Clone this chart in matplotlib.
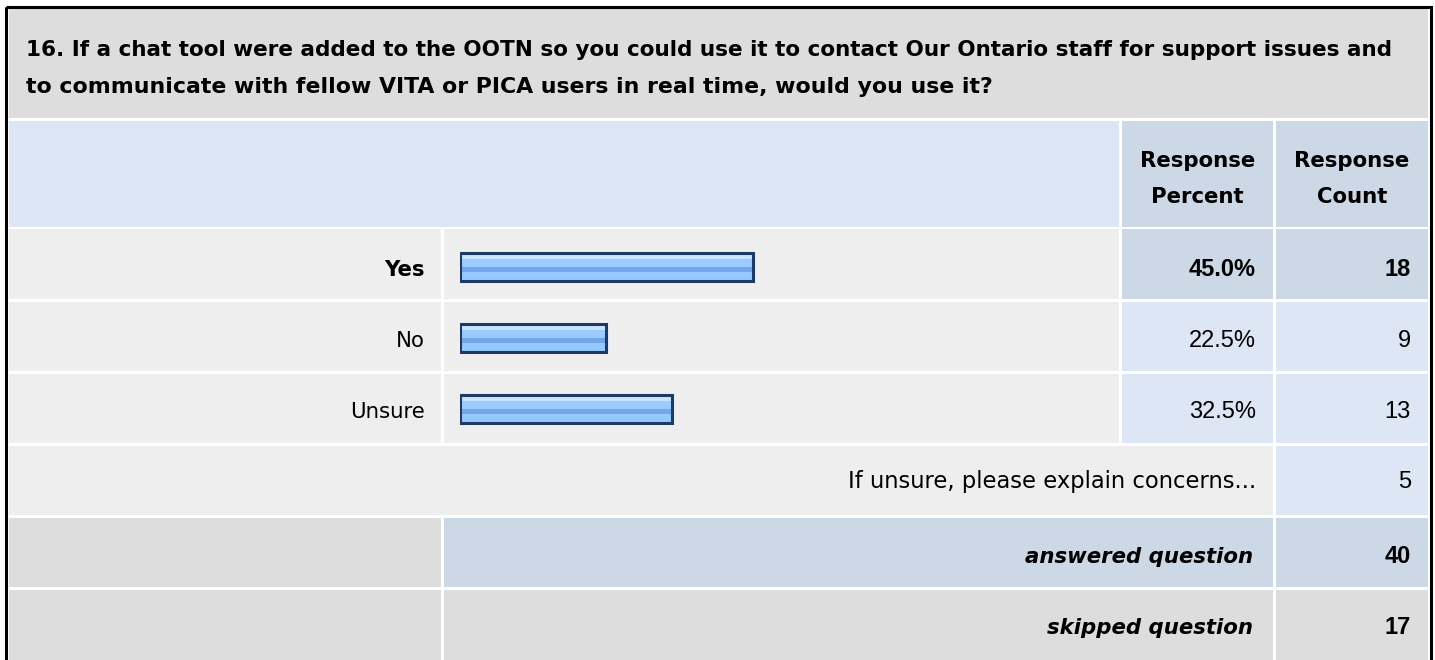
import matplotlib
matplotlib.use("Agg")
import matplotlib.pyplot as plt
from matplotlib.patches import Rectangle

plt.rcParams['font.family'] = ['DejaVu Sans']

question = ("16. If a chat tool were added to the OOTN so you could use it to contact Our Ontario staff for support issues and",
            "to communicate with fellow VITA or PICA users in real time, would you use it?")
options = ['Yes', 'No', 'Unsure']
percents = [45.0, 22.5, 32.5]
counts = [18, 9, 13]
other_label = 'If unsure, please explain concerns...'
other_count = 5
answered = 40
skipped = 17

W, H = 1435, 660
GRAY = '#DDDDDD'
ROW = '#EEEEEE'
LBLUE = '#DCE6F4'
DBLUE = '#CCD8E6'
NUM = 'Liberation Sans'   # digits are narrower, Arial-like
FS = 15.3

fig = plt.figure(figsize=(W / 100, H / 100), dpi=100)
ax = fig.add_axes([0, 0, 1, 1])
ax.set_xlim(0, W)
ax.set_ylim(H, 0)
ax.axis('off')

def cell(x0, x1, y0, y1, color):
    ax.add_patch(Rectangle((x0, y0), x1 - x0, y1 - y0, facecolor=color, edgecolor='none'))

# column and row edges (pixels)
c0, c1, c2, c3 = (9, 441), (444, 1119), (1122, 1273), (1276, 1428)
rows = [(229, 299), (302, 371), (374, 443)]
baselines = [276, 347, 418]

# title
cell(9, 1428, 9, 118, GRAY)
ax.text(26, 56, question[0], fontsize=15.5, fontweight='bold', va='baseline')
ax.text(26, 93, question[1], fontsize=15.8, fontweight='bold', va='baseline')

# header
cell(c0[0], c1[1], 121, 227, LBLUE)
cell(c2[0], c2[1], 121, 227, DBLUE)
cell(c3[0], c3[1], 121, 227, DBLUE)
for cx, word in [((c2[0] + c2[1]) / 2, 'Percent'), ((c3[0] + c3[1]) / 2, 'Count')]:
    ax.text(cx, 167, 'Response', fontsize=FS, fontweight='bold', ha='center', va='baseline')
    ax.text(cx, 203, word, fontsize=FS, fontweight='bold', ha='center', va='baseline')

# option rows
for i, (lab, p, n) in enumerate(zip(options, percents, counts)):
    y0, y1 = rows[i]
    top = i == 0
    bg = DBLUE if top else LBLUE
    cell(c0[0], c0[1], y0, y1, ROW)
    cell(c1[0], c1[1], y0, y1, ROW)
    cell(c2[0], c2[1], y0, y1, bg)
    cell(c3[0], c3[1], y0, y1, bg)
    yb = baselines[i]
    w = 'bold' if top else 'normal'
    ax.text(425, yb, lab, fontsize=FS, fontweight=w, ha='right', va='baseline')
    ax.text(1256, yb, f'{p:.1f}%', fontsize=17, fontweight=w, ha='right', va='baseline', family=NUM)
    ax.text(1411, yb, str(n), fontsize=17, fontweight=w, ha='right', va='baseline', family=NUM)

# other row
cell(c0[0], c2[1], 446, 515, ROW)
cell(c3[0], c3[1], 446, 515, LBLUE)
ax.text(1256, 488, other_label, fontsize=16.3, ha='right', va='baseline')
ax.text(1411, 488, str(other_count), fontsize=17, ha='right', va='baseline', family=NUM)

# answered / skipped
cell(c0[0], c0[1], 518, 587, GRAY)
cell(c1[0], c2[1], 518, 587, DBLUE)
cell(c3[0], c3[1], 518, 587, DBLUE)
ax.text(1253, 563, 'answered question', fontsize=FS, fontweight='bold', style='italic', ha='right', va='baseline')
ax.text(1411, 563, str(answered), fontsize=17, fontweight='bold', ha='right', va='baseline', family=NUM)
cell(c0[0], c0[1], 590, 662, GRAY)
cell(c1[0], c2[1], 590, 662, GRAY)
cell(c3[0], c3[1], 590, 662, GRAY)
ax.text(1253, 634, 'skipped question', fontsize=FS, fontweight='bold', style='italic', ha='right', va='baseline')
ax.text(1411, 634, str(skipped), fontsize=17, fontweight='bold', ha='right', va='baseline', family=NUM)

# outer border
ax.add_patch(Rectangle((5.5, 7), 1425, 660, facecolor='none', edgecolor='black', linewidth=2.2))

# bars in their own axes: 0..100 % across the bar track
bx0, bx1 = 460, 1111
by0, by1 = 231.5, 444.5
bax = fig.add_axes([bx0 / W, 1 - by1 / H, (bx1 - bx0) / W, (by1 - by0) / H])
bax.set_xlim(0, 100)
bax.set_ylim(len(options) - 0.5, -0.5)
bax.axis('off')
bh = 0.39
ypos = list(range(len(options)))
stripes = [(0.0, 0.2, '#C9E4FF'), (0.2, 0.5, '#9ACCFF'), (0.5, 0.68, '#72A8EA'), (0.68, 1.0, '#94C8FF')]
for f0, f1, col in stripes:
    yc = [y - bh / 2 + (f0 + f1) / 2 * bh for y in ypos]
    bax.barh(yc, percents, height=(f1 - f0) * bh, left=0, color=col, linewidth=0)
bax.barh(ypos, percents, height=bh, left=0, fill=False, edgecolor='#1C3A63', linewidth=2.2)

fig.savefig('out.png', dpi=100)
